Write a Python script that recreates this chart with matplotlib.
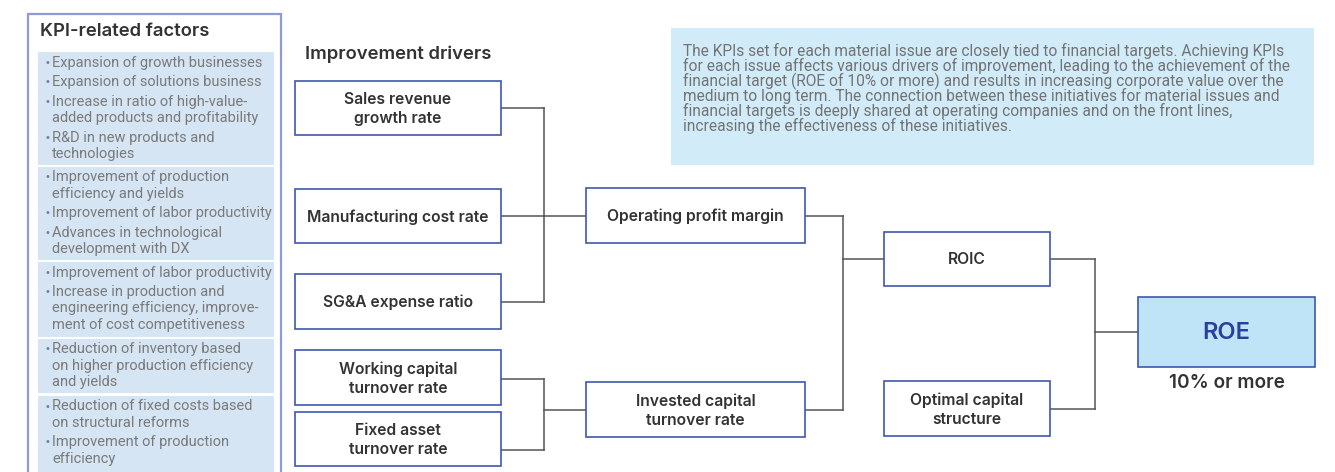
import matplotlib.pyplot as plt
from matplotlib.patches import Rectangle

# ---------------------------------------------------------------------------
# KPI -> improvement drivers -> ROE tree diagram.
# Everything is drawn in pixel units on a single axes (y grows downwards).
# ---------------------------------------------------------------------------

# Left panel: KPI-related factors, one group per blue band
panel_title = "KPI-related factors"
kpi_groups = [
    ["Expansion of growth businesses",
     "Expansion of solutions business",
     "Increase in ratio of high-value-\nadded products and profitability",
     "R&D in new products and\ntechnologies"],
    ["Improvement of production\nefficiency and yields",
     "Improvement of labor productivity",
     "Advances in technological\ndevelopment with DX"],
    ["Improvement of labor productivity",
     "Increase in production and\nengineering efficiency, improve-\nment of cost competitiveness"],
    ["Reduction of inventory based\non higher production efficiency\nand yields"],
    ["Reduction of fixed costs based\non structural reforms",
     "Improvement of production\nefficiency"],
]

drivers_title = "Improvement drivers"
drivers = ["Sales revenue\ngrowth rate", "Manufacturing cost rate", "SG&A expense ratio",
           "Working capital\nturnover rate", "Fixed asset\nturnover rate"]
middle = ["Operating profit margin", "Invested capital\nturnover rate"]
right = ["ROIC", "Optimal capital\nstructure"]
goal = "ROE"
goal_note = "10% or more"

note = ("The KPIs set for each material issue are closely tied to financial targets. Achieving KPIs\n"
        "for each issue affects various drivers of improvement, leading to the achievement of the\n"
        "financial target (ROE of 10% or more) and results in increasing corporate value over the\n"
        "medium to long term. The connection between these initiatives for material issues and\n"
        "financial targets is deeply shared at operating companies and on the front lines,\n"
        "increasing the effectiveness of these initiatives.")

# layout (pixels)
W, H = 1335, 472
band_tops = [52, 167, 262, 339, 396]
band_bottoms = [165, 260, 337, 393, 480]
driver_x = (295, 501)
driver_y = [(81, 135), (189, 243), (274, 329), (350, 405), (412, 466)]
driver_anchor = [108, 216, 302, 379, 450]
middle_x = (586, 805)
middle_y = [(188, 243), (382, 437)]
right_x = (884, 1050)
right_y = [(232, 286), (381, 436)]
goal_box = (1138, 1315, 297, 367)

BORDER = "#3f56ad"
LINE = "#555555"
BOLD_FONT = "Inter"
BODY_FONT = "Roboto"

fig = plt.figure(figsize=(W / 100, H / 100), dpi=100)
ax = fig.add_axes([0, 0, 1, 1])
ax.set_xlim(0, W)
ax.set_ylim(H, 0)
ax.axis("off")


def box(x0, x1, y0, y1, label, fc="white", size=11.3, color="#333333"):
    ax.add_patch(Rectangle((x0, y0), x1 - x0, y1 - y0, facecolor=fc,
                           edgecolor=BORDER, lw=1.2, zorder=2))
    ax.text((x0 + x1) / 2, (y0 + y1) / 2 + 1, label, ha="center", va="center",
            fontsize=size, fontfamily=BOLD_FONT, fontweight="semibold",
            color=color, linespacing=1.35, zorder=3)


def bracket(x_from, ys, x_join, y_out, x_to):
    for y in ys:
        ax.plot([x_from, x_join], [y, y], color=LINE, lw=1.1, zorder=1)
    ax.plot([x_join, x_join], [min(ys), max(ys)], color=LINE, lw=1.1, zorder=1)
    ax.plot([x_join, x_to], [y_out, y_out], color=LINE, lw=1.1, zorder=1)


# left panel
ax.add_patch(Rectangle((28, 14), 253, 470, facecolor="white",
                       edgecolor="#8c9bd2", lw=1.6, zorder=1))
ax.text(40, 36, panel_title, ha="left", va="baseline", fontsize=13.3,
        fontfamily=BOLD_FONT, fontweight="semibold", color="#333333")
for group, top, bottom in zip(kpi_groups, band_tops, band_bottoms):
    ax.add_patch(Rectangle((38, top), 236, bottom - top, facecolor="#d5e5f4",
                           edgecolor="none", zorder=1.5))
    y = top + 10.5
    for item in group:
        for i, line in enumerate(item.split("\n")):
            if i == 0:
                ax.text(44, y, "•", ha="left", va="center", fontsize=7,
                        color="#6b7fa8", zorder=3)
            ax.text(52, y, line, ha="left", va="center", fontsize=10.5,
                    fontfamily=BODY_FONT, color="#7a7a7a", zorder=3)
            y += 16.3
        y += 3.3

# improvement drivers column
ax.text(305, 59, drivers_title, ha="left", va="baseline", fontsize=13.3,
        fontfamily=BOLD_FONT, fontweight="semibold", color="#333333")
for label, (y0, y1) in zip(drivers, driver_y):
    box(driver_x[0], driver_x[1], y0, y1, label)
for label, (y0, y1) in zip(middle, middle_y):
    box(middle_x[0], middle_x[1], y0, y1, label)
for label, (y0, y1) in zip(right, right_y):
    box(right_x[0], right_x[1], y0, y1, label)
gx0, gx1, gy0, gy1 = goal_box
box(gx0, gx1, gy0, gy1, goal, fc="#bfe4f8", size=17, color="#2a409c")
ax.text((gx0 + gx1) / 2, gy1 + 16, goal_note, ha="center", va="center",
        fontsize=13.7, fontfamily=BOLD_FONT, fontweight="semibold", color="#333333")

# connectors
mid_c = [(a + b) / 2 for a, b in middle_y]
right_c = [(a + b) / 2 for a, b in right_y]
bracket(driver_x[1], driver_anchor[:3], 544, driver_anchor[1], middle_x[0])
bracket(driver_x[1], driver_anchor[3:], 544, mid_c[1], middle_x[0])
bracket(middle_x[1], mid_c, 843, right_c[0], right_x[0])
bracket(right_x[1], right_c, 1095, (gy0 + gy1) / 2, gx0)

# explanatory note
ax.add_patch(Rectangle((671, 28), 643, 137, facecolor="#d1ecf8", edgecolor="none", zorder=1))
for i, line in enumerate(note.split("\n")):
    ax.text(683, 56 + 15 * i, line, ha="left", va="baseline", fontsize=11.2,
            fontfamily=BODY_FONT, color="#737373", zorder=3)

fig.savefig("out.png", dpi=100)
